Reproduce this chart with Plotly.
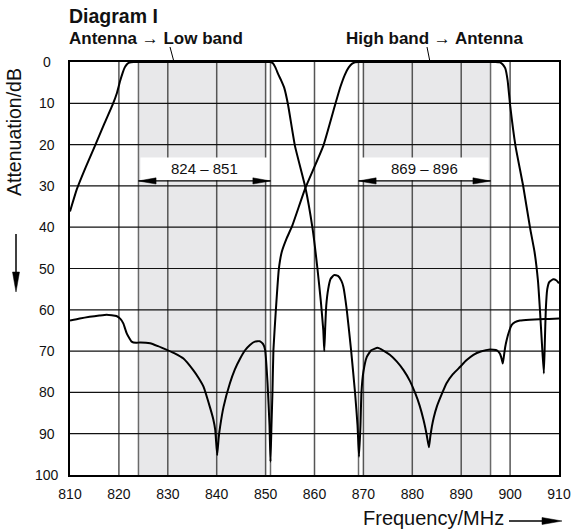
import plotly.graph_objects as go

# ---------------- data ----------------
lb_freq = [810, 811.4, 813.2, 815.1, 817, 818.7, 819.6, 820.2, 820.8, 821.2, 821.6, 822, 822.5, 823,
           830, 840, 850, 851, 851.5, 852, 852.6, 853.2, 853.8, 854.6, 856, 858.1, 859.6, 860.6,
           861.3, 861.8, 862, 862.2, 862.4, 862.8, 863.3, 864, 864.8, 865.5, 865.9, 866.6, 867.5,
           868.3, 868.8, 869.1, 869.4, 869.6, 870, 870.7, 871.6, 872.9, 874, 875.4, 876.8, 878.2,
           879.5, 880.6, 881.5, 882.3, 882.9, 883.4, 883.7, 884, 884.4, 885, 886, 887, 888.3, 889.8,
           891, 892.5, 894, 895.9, 897.3, 897.9, 898.3, 898.5, 898.7, 899, 899.3, 899.8, 900.3, 901,
           902, 904, 906, 908, 910]
lb_db = [36.2, 30.8, 25.5, 20.3, 15, 10.4, 7.5, 4.8, 2.5, 1.3, 0.6, 0.2, 0.05, 0,
         0, 0, 0, 0, 0.3, 1.3, 3.0, 4.5, 6.2, 10.4, 20.3, 30.2, 40.3, 50,
         58, 65, 70, 64, 59, 55, 52.5, 51.6, 51.8, 53, 54.4, 60, 70,
         80.2, 88, 95.6, 88, 80, 75, 71.4, 69.8, 69.2, 69.8, 70.9, 72.5, 74.6,
         77.2, 80.2, 83.2, 86.7, 90, 93.3, 90.5, 88.3, 86, 83.5, 80.5, 77.8, 75.6, 73.8,
         72.3, 70.9, 70.1, 69.6, 69.8, 70.6, 72, 73, 71.5, 69, 67.3, 65.2, 63.7, 63,
         62.6, 62.4, 62.3, 62.2, 62.1]

hb_freq = [810, 812, 814, 816, 817.5, 819.5, 820.3, 820.9, 821.6, 822.2, 822.6, 823.5, 824.3, 826.4,
           828, 829.8, 831.5, 833.2, 835.2, 836.3, 837.3, 838.6, 839.3, 839.7, 840.1, 840.4, 840.7,
           841.4, 842.7, 843.7, 844.8, 845.8, 846.8, 847.8, 848.8, 849.5, 849.9, 850.4, 850.8, 851,
           851.2, 851.4, 851.6, 852.1, 852.7, 853.3, 854.2, 855.5, 858.1, 861.8, 864.2, 865.3, 866.2,
           867, 867.7, 868.3, 869, 880, 890, 897, 897.9, 898.5, 899, 899.5, 900, 901.1, 902.7, 904.1,
           905, 905.7, 906.1, 906.5, 906.9, 907.1, 907.3, 907.6, 908, 908.8, 909.5, 910]
hb_db = [62.6, 62.1, 61.7, 61.4, 61.2, 61.5, 62.2, 63.3, 65.7, 67, 67.7, 68, 67.9, 68.1,
         68.8, 69.7, 70.6, 71.8, 74.6, 76.5, 78.6, 83.5, 86.5, 89.1, 95.2, 91, 88.3,
         83.5, 77.8, 74.5, 71.8, 69.8, 68.5, 67.7, 67.6, 68.3, 69.7, 77.8, 88, 96.8,
         88, 80, 69.7, 60, 50.2, 46, 43, 39.5, 30.6, 20.3, 10.4, 6, 3.1,
         1.3, 0.4, 0.05, 0, 0, 0, 0, 0.1, 0.6, 1.5, 4.5, 10.4, 20.3, 30.2, 40.3,
         46, 53, 60, 68, 75.4, 68, 60, 55, 53.3, 52.6, 52.9, 53.6]

x_ticks = [810, 820, 830, 840, 850, 860, 870, 880, 890, 900, 910]
y_ticks = [0, 10, 20, 30, 40, 50, 60, 70, 80, 90, 100]

band_edges = [(824, 851), (869, 896)]
band_shade = [(824, 850), (870, 896)]
band_labels = ["824 – 851", "869 – 896"]
band_label_db = [25.9, 25.9]
band_arrow_db = [28.8, 28.8]

FONT = "Liberation Sans, Arial, Helvetica, sans-serif"

# ---------------- geometry helpers (pixel -> paper) ----------------
W, H = 574, 531
L, T = 70, 62
R = W - 559
B = H - 475
PW, PH = W - L - R, H - T - B


def px(x):
    return (x - L) / PW


def py(y):
    return 1 - (y - T) / PH


fig = go.Figure()

fig.add_trace(go.Scatter(x=lb_freq, y=lb_db, mode="lines",
                         line=dict(color="black", width=2, shape="spline", smoothing=0.4),
                         showlegend=False, hoverinfo="skip"))
fig.add_trace(go.Scatter(x=hb_freq, y=hb_db, mode="lines",
                         line=dict(color="black", width=2, shape="spline", smoothing=0.4),
                         showlegend=False, hoverinfo="skip"))

shapes = []
# gray pass bands
for a, b in band_shade:
    shapes.append(dict(type="rect", xref="x", yref="y", x0=a, x1=b, y0=0, y1=100,
                       fillcolor="#e8e8ea", line=dict(width=0), layer="below"))
# band edge lines
for a, b in band_edges:
    for v in (a, b):
        shapes.append(dict(type="line", xref="x", yref="y", x0=v, x1=v, y0=0, y1=100,
                           line=dict(color="#6a6a6a", width=1.5), layer="below"))
# grid lines
for v in x_ticks[1:-1]:
    shapes.append(dict(type="line", xref="x", yref="y", x0=v, x1=v, y0=0, y1=100,
                       line=dict(color="#555555", width=1.5), layer="below"))
for v in y_ticks[1:-1]:
    shapes.append(dict(type="line", xref="x", yref="y", x0=810, x1=910, y0=v, y1=v,
                       line=dict(color="#111111", width=1.2), layer="below"))

# white label boxes + double arrows
for (a, b), lab_y, arr_y in zip(band_edges, band_label_db, band_arrow_db):
    shapes.append(dict(type="rect", xref="x", yref="y", x0=a + 0.4, x1=b - 0.4,
                       y0=lab_y - 2.8, y1=arr_y - 0.15,
                       fillcolor="white", line=dict(width=0), layer="below"))
    shapes.append(dict(type="line", xref="x", yref="y", x0=a, x1=b, y0=arr_y, y1=arr_y,
                       line=dict(color="black", width=1.2)))
    hl, hw = 3.6, 0.75
    shapes.append(dict(type="path", xref="x", yref="y",
                       path=f"M {a},{arr_y} L {a + hl},{arr_y - hw} L {a + hl},{arr_y + hw} Z",
                       fillcolor="black", line=dict(color="black", width=0.5)))
    shapes.append(dict(type="path", xref="x", yref="y",
                       path=f"M {b},{arr_y} L {b - hl},{arr_y - hw} L {b - hl},{arr_y + hw} Z",
                       fillcolor="black", line=dict(color="black", width=0.5)))

# leader lines from the band titles
shapes.append(dict(type="line", xref="paper", yref="paper", x0=px(170), x1=px(174),
                   y0=py(47), y1=py(62), line=dict(color="black", width=1)))
shapes.append(dict(type="line", xref="paper", yref="paper", x0=px(427), x1=px(430),
                   y0=py(47), y1=py(62), line=dict(color="black", width=1)))

# axis title arrows
shapes.append(dict(type="line", xref="paper", yref="paper", x0=px(16), x1=px(16),
                   y0=py(234), y1=py(276), line=dict(color="black", width=1.5)))
shapes.append(dict(type="path", xref="paper", yref="paper",
                   path=f"M {px(16)},{py(292)} L {px(12.5)},{py(272)} L {px(19.5)},{py(272)} Z",
                   fillcolor="black", line=dict(color="black", width=0.5)))
shapes.append(dict(type="line", xref="paper", yref="paper", x0=px(509), x1=px(545),
                   y0=py(521), y1=py(521), line=dict(color="black", width=1.5)))
shapes.append(dict(type="path", xref="paper", yref="paper",
                   path=f"M {px(562)},{py(521)} L {px(542)},{py(517.5)} L {px(542)},{py(524.5)} Z",
                   fillcolor="black", line=dict(color="black", width=0.5)))

annotations = []
for lab, (a, b), lab_y in zip(band_labels, band_edges, band_label_db):
    annotations.append(dict(x=(a + b) / 2, y=lab_y, xref="x", yref="y", text=lab,
                            showarrow=False, font=dict(family=FONT, size=15, color="#111")))
for v in y_ticks:
    annotations.append(dict(x=px(47), y=v, xref="paper", yref="y", text=str(v),
                            showarrow=False, xanchor="center", yanchor="middle",
                            font=dict(family=FONT, size=14, color="#111")))
annotations += [
    dict(x=px(67), y=py(15.5), xref="paper", yref="paper", text="<b>Diagram I</b>",
         showarrow=False, xanchor="left", yanchor="middle",
         font=dict(family=FONT, size=19.5, color="#111")),
    dict(x=px(67), y=py(38.5), xref="paper", yref="paper", text="<b>Antenna → Low band</b>",
         showarrow=False, xanchor="left", yanchor="middle",
         font=dict(family=FONT, size=17, color="#111")),
    dict(x=px(344), y=py(38.5), xref="paper", yref="paper", text="<b>High band → Antenna</b>",
         showarrow=False, xanchor="left", yanchor="middle",
         font=dict(family=FONT, size=17, color="#111")),
    dict(x=px(14), y=py(132), xref="paper", yref="paper", text="Attenuation/dB",
         showarrow=False, textangle=-90, xanchor="center", yanchor="middle",
         font=dict(family=FONT, size=19.5, color="#111")),
    dict(x=px(506), y=py(518), xref="paper", yref="paper", text="Frequency/MHz",
         showarrow=False, xanchor="right", yanchor="middle",
         font=dict(family=FONT, size=20, color="#111")),
]

fig.update_layout(
    width=W, height=H,
    margin=dict(l=L, r=R, t=T, b=B, autoexpand=False),
    paper_bgcolor="white", plot_bgcolor="white",
    shapes=shapes, annotations=annotations,
    showlegend=False,
    font=dict(family=FONT, size=14, color="#111"),
)
fig.update_xaxes(range=[810, 910], tickvals=x_ticks, showgrid=False, zeroline=False,
                 automargin=False,
                 showline=True, linecolor="black", linewidth=1.5, mirror=True,
                 ticks="outside", ticklen=5, tickcolor="rgba(0,0,0,0)",
                 tickfont=dict(family=FONT, size=14, color="#111"))
fig.update_yaxes(range=[100, 0], tickvals=y_ticks, showticklabels=False, showgrid=False,
                 automargin=False,
                 zeroline=False, showline=True, linecolor="black", linewidth=1.5, mirror=True)

fig.write_html("out.html", config={"displayModeBar": False},
               post_script="document.body.style.margin='0';document.body.style.overflow='hidden';")
